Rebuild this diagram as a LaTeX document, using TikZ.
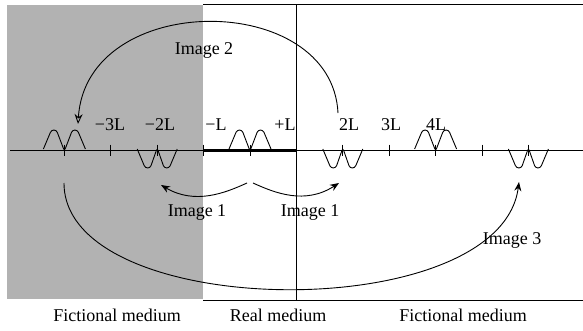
\documentclass[tikz,border=0pt]{standalone}
\usepackage{fontspec}
\setmainfont{Liberation Serif}
\usetikzlibrary{arrows.meta}
\definecolor{medgray}{RGB}{178,178,178}
\begin{document}
\begin{tikzpicture}[x=1pt,y=-1pt,
  lbl/.style={font=\fontsize{18}{20}\selectfont, inner sep=0pt},
  tickmark/.style={line width=0.8pt},
  wave/.style={line width=0.9pt, rounded corners=2.5pt},
  arr/.style={line width=0.9pt, -{Stealth[length=9pt,width=7pt]}},
  oarr/.style={line width=0.9pt, -{Stealth[open,length=10pt,width=8pt]}}]
\useasboundingbox (0,0) rectangle (583,330);
% media
\fill[medgray] (7,5) rectangle (203,299);
\draw[line width=1pt] (203,4) -- (583,4);
\draw[line width=1pt] (203,300) -- (583,300);
\draw[line width=1pt] (296,4) -- (296,300);
% axis
\draw[line width=1pt] (10,150) -- (583,150);
\draw[line width=3pt] (203,150) -- (296,150);
\foreach \k in {-4,...,6}{
  \draw[tickmark] ({250+46.4*\k},144.5) -- ({250+46.4*\k},155.5);
}
% positive double humps
\foreach \c in {64.4,250,435.6}{
  \draw[wave] ({\c-21},149) -- ({\c-13},130) -- ({\c-8},130) -- (\c,151) -- ({\c+8},130) -- ({\c+13},130) -- ({\c+21},149);
}
% negative double humps
\foreach \c in {157.2,342.8,528.4}{
  \draw[wave] ({\c-20},149) -- ({\c-12},168) -- ({\c-7},168) -- (\c,148) -- ({\c+7},168) -- ({\c+12},168) -- ({\c+20},149);
}
% tick labels
\node[lbl] (m3) at (110,125) {−3L};
\node[lbl] (m2) at (160,125) {−2L};
\node[lbl] (m1) at (216,125) {−L};
\node[lbl] (p1) at (285,125) {+L};
\node[lbl] (p2) at (349,125) {2L};
\node[lbl] (p3) at (391,125) {3L};
\node[lbl] (p4) at (436,125) {4L};
% image labels
\node[lbl] (i2) at (204,50) {Image 2};
\node[lbl] (i1a) at (197,212) {Image 1};
\node[lbl] (i1b) at (310,212) {Image 1};
\node[lbl] (i3) at (512,240) {Image 3};
% medium labels
\node[lbl] (fm1) at (117,315) {Fictional medium};
\node[lbl] (rm) at (278,315) {Real medium};
\node[lbl] (fm2) at (463,315) {Fictional medium};
% arrow end points
\coordinate (a2s) at (338,113);
\coordinate (a2e) at (78,124);
\coordinate (a1l) at (247,183);
\coordinate (a1le) at (161,185);
\coordinate (a1r) at (253,183);
\coordinate (a1re) at (339,183);
\coordinate (a3s) at (64,183);
\coordinate (a3e) at (519,182);
% arrows
\draw[oarr] (a2s) .. controls (332,-10) and (86,-10) .. (a2e);
\draw[arr] (a1l) .. controls (225,193) and (195,205) .. (a1le);
\draw[arr] (a1r) .. controls (275,193) and (305,205) .. (a1re);
\draw[arr] (a3s) .. controls (64,322) and (500,327) .. (a3e);
\end{tikzpicture}
\end{document}
